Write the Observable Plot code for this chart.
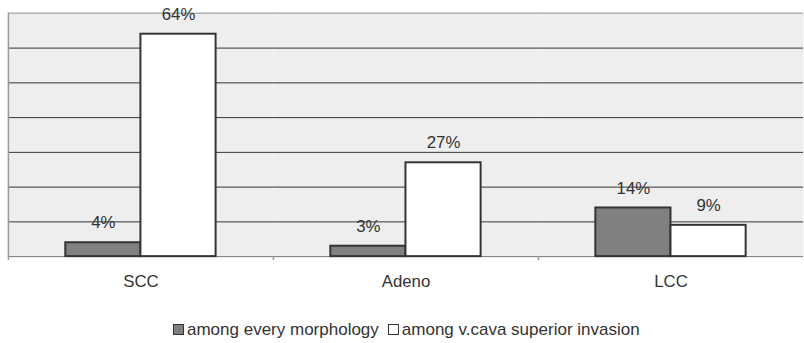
<!DOCTYPE html>
<html>
<head>
<meta charset="utf-8">
<script src="https://cdn.jsdelivr.net/npm/d3@7"></script>
<script src="https://cdn.jsdelivr.net/npm/@observablehq/plot@0.6"></script>
<style>
  html, body { margin: 0; padding: 0; background: #fff; overflow: hidden; }
  #wrap { width: 804px; height: 343px; overflow: hidden; font-family: "Liberation Sans", Arial, sans-serif; color: #333; }
  #legend { margin-top: 23px; margin-left: 173px; font-size: 17px; line-height: 20px; white-space: nowrap; display: flex; align-items: center; }
  .sw { display: inline-block; width: 9px; height: 9px; border: 1.5px solid #333; margin-right: 3px; }
  .item { display: inline-flex; align-items: center; margin-right: 9px; }
</style>
</head>
<body>
<div id="wrap">
  <div id="chart"></div>
  <div id="legend"></div>
</div>
<script>
const categories = ["SCC", "Adeno", "LCC"];
const seriesNames = ["among every morphology", "among v.cava superior invasion"];
const everyMorphology = [4, 3, 14];
const vcavaInvasion = [64, 27, 9];
const gridTicks = [10, 20, 30, 40, 50, 60];
const yMax = 70;
const seriesColors = ["#808080", "#ffffff"];

const data = [];
categories.forEach((c, i) => {
  data.push({category: c, series: seriesNames[0], value: everyMorphology[i]});
  data.push({category: c, series: seriesNames[1], value: vcavaInvasion[i]});
});

const plot = Plot.plot({
  width: 813,
  height: 300,
  marginLeft: 7,
  marginRight: 0,
  marginTop: 13,
  marginBottom: 41,
  style: {fontFamily: '"Liberation Sans", Arial, sans-serif', fontSize: "17px", color: "#333", background: "transparent"},
  fx: {domain: categories, padding: 0, label: null, tickSize: 0, tickPadding: 19, axis: "bottom"},
  x: {domain: seriesNames, paddingInner: 0, paddingOuter: 0.756, axis: null},
  y: {domain: [0, yMax], axis: null},
  color: {domain: seriesNames, range: seriesColors},
  marks: [
    Plot.frame({fill: "#eeeeee"}),
    Plot.ruleY(gridTicks, {stroke: "#333", strokeWidth: 1}),
    Plot.ruleY([yMax], {stroke: "#b0b0b0", strokeWidth: 1.5}),
    Plot.ruleY([0], {stroke: "#777", strokeWidth: 1}),
    Plot.barY(data, {fx: "category", x: "series", y: "value", fill: "series", stroke: "#333", strokeWidth: 2}),
    Plot.text(data, {fx: "category", x: "series", y: "value", text: d => d.value + "%", dy: -20, fontSize: 17, fill: "#333"})
  ]
});

document.getElementById("chart").appendChild(plot);

// category separator ticks and left axis line, positioned via the plot's scales
const fx = plot.scale("fx");
const y = plot.scale("y");
const svg = d3.select(plot);
const y0 = y.apply(0);
const yTop = y.apply(yMax);
categories.forEach((c, i) => {
  const xPos = Math.round(fx.apply(c)) + 0.5;
  svg.append("line")
    .attr("x1", xPos).attr("x2", xPos)
    .attr("y1", i === 0 ? yTop : y0).attr("y2", y0 + 4)
    .attr("stroke", "#999").attr("stroke-width", 1.5);
});

// legend
const legend = document.getElementById("legend");
seriesNames.forEach((s, i) => {
  const item = document.createElement("span");
  item.className = "item";
  const sw = document.createElement("span");
  sw.className = "sw";
  sw.style.background = seriesColors[i];
  item.appendChild(sw);
  item.appendChild(document.createTextNode(s));
  legend.appendChild(item);
});
</script>
</body>
</html>
